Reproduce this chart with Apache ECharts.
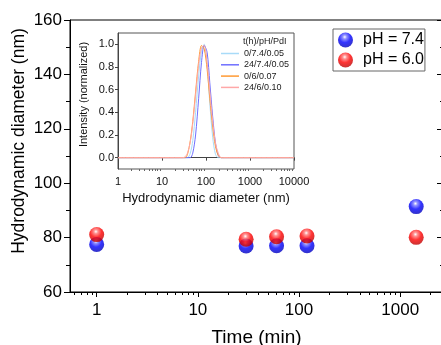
<!DOCTYPE html>
<html>
<head>
<meta charset="utf-8">
<script src="https://cdn.jsdelivr.net/npm/echarts@6/dist/echarts.min.js"></script>
<style>
  html, body { margin: 0; padding: 0; background: #fff; }
  #chart { width: 441px; height: 345px; }
</style>
</head>
<body>
<div id="chart"></div>
<script>
// main plot: hydrodynamic diameter vs time
const times = [1, 30, 60, 120, 1440];
const dPH74 = [77.5, 76.9, 77.0, 77.0, 91.4];
const dPH60 = [81.1, 79.4, 80.3, 80.6, 80.1];

// inset: DLS size distributions
const sizes = [1, 30, 34, 38, 44, 50, 58, 68, 79, 91, 106, 122, 142, 164, 190, 220, 255, 10000];
const int0_74 = [0, 0, 0, 0, 0.04, 0.15, 0.40, 0.72, 0.94, 1.00, 0.82, 0.48, 0.18, 0.03, 0, 0, 0, 0];
const int24_74 = [0, 0, 0, 0, 0, 0.04, 0.20, 0.52, 0.84, 0.99, 0.93, 0.66, 0.36, 0.13, 0.02, 0, 0, 0];
const int0_6 = [0, 0, 0, 0.03, 0.15, 0.32, 0.58, 0.85, 0.99, 0.96, 0.78, 0.52, 0.27, 0.10, 0.02, 0, 0, 0];
const int24_6 = [0, 0, 0.01, 0.04, 0.14, 0.30, 0.55, 0.82, 0.97, 0.99, 0.84, 0.58, 0.32, 0.13, 0.04, 0, 0, 0];

const mainMajor = [1, 10, 100, 1000];
const mainMinor = [0.6, 0.7, 0.8, 0.9, 2, 3, 4, 5, 6, 7, 8, 9, 20, 30, 40, 50, 60, 70, 80, 90,
  200, 300, 400, 500, 600, 700, 800, 900, 2000];
const insetMajor = [1, 10, 100, 1000, 10000];
const insetMinor = [2, 3, 4, 5, 6, 7, 8, 9, 20, 30, 40, 50, 60, 70, 80, 90,
  200, 300, 400, 500, 600, 700, 800, 900, 2000, 3000, 4000, 5000, 6000, 7000, 8000, 9000];
const insetYTicks = [0, 0.2, 0.4, 0.6, 0.8, 1.0];

const font = "'Liberation Sans', Arial, sans-serif";

const ball = (light, mid, dark) => new echarts.graphic.RadialGradient(0.45, 0.3, 0.75, [
  { offset: 0, color: '#ffffff' },
  { offset: 0.18, color: light },
  { offset: 0.5, color: mid },
  { offset: 1, color: dark }
]);

const pairs = (xs, ys) => xs.map((x, i) => [x, ys[i]]);
const plain = (v) => String(Math.round(v));

const chart = echarts.init(document.getElementById('chart'));

const option = {
  animation: false,
  textStyle: { fontFamily: font },
  title: {
    text: 't(h)/pH/PdI',
    left: 243, top: 37, padding: 0,
    textStyle: { fontSize: 9, fontWeight: 'normal', color: '#222', fontFamily: font }
  },
  legend: [
    {
      data: ['pH = 7.4', 'pH = 6.0'],
      orient: 'vertical',
      left: 333, top: 29,
      padding: [3, 1, 3, 5],
      itemWidth: 25, itemHeight: 15, itemGap: 4,
      borderColor: '#666', borderWidth: 1,
      textStyle: { fontSize: 16, lineHeight: 16, color: '#000', fontFamily: font }
    },
    {
      data: ['0/7.4/0.05', '24/7.4/0.05', '0/6/0.07', '24/6/0.10'],
      orient: 'vertical',
      left: 221, top: 48,
      padding: 0,
      icon: 'rect',
      itemWidth: 18, itemHeight: 1.5, itemGap: 0.3,
      textStyle: { fontSize: 9, lineHeight: 11, color: '#222', fontFamily: font }
    }
  ],
  grid: [
    { left: 70, top: 20, right: -2, bottom: 53, outerBoundsMode: 'none', show: true, borderColor: '#000', borderWidth: 1 },
    { left: 118, top: 33, width: 176, height: 136, outerBoundsMode: 'none', show: true, borderColor: '#555', borderWidth: 1, backgroundColor: '#fff' }
  ],
  xAxis: [
    {
      type: 'log', gridIndex: 0, position: 'bottom', min: 0.545, max: 2650,
      axisLine: { lineStyle: { color: '#000', width: 1 } },
      axisTick: { customValues: mainMajor, length: 5, lineStyle: { color: '#000' } },
      axisLabel: { customValues: mainMajor, formatter: plain, fontSize: 17, margin: 10, color: '#000', fontFamily: font },
      splitLine: { show: false },
      name: 'Time (min)', nameLocation: 'middle', nameGap: 36, nameMoveOverlap: false,
      nameTextStyle: { fontSize: 19, color: '#000', fontFamily: font }
    },
    {
      type: 'log', gridIndex: 0, position: 'bottom', min: 0.545, max: 2650,
      axisLine: { show: false },
      axisTick: { customValues: mainMinor, length: 3, lineStyle: { color: '#000' } },
      axisLabel: { show: false },
      splitLine: { show: false }
    },
    {
      type: 'log', gridIndex: 1, position: 'bottom', min: 1, max: 10000,
      axisLine: { lineStyle: { color: '#444', width: 1 } },
      axisTick: { customValues: insetMajor, length: 3, lineStyle: { color: '#444' } },
      axisLabel: { customValues: insetMajor, formatter: plain, fontSize: 11, margin: 7, color: '#111', fontFamily: font },
      splitLine: { show: false },
      name: 'Hydrodynamic diameter (nm)', nameLocation: 'middle', nameGap: 23, nameMoveOverlap: false,
      nameTextStyle: { fontSize: 13, color: '#111', fontFamily: font }
    },
    {
      type: 'log', gridIndex: 1, position: 'bottom', min: 1, max: 10000,
      axisLine: { show: false },
      axisTick: { customValues: insetMinor, length: 2, lineStyle: { color: '#666' } },
      axisLabel: { show: false },
      splitLine: { show: false }
    }
  ],
  yAxis: [
    {
      type: 'value', gridIndex: 0, position: 'left', min: 60, max: 160, interval: 20,
      axisLine: { show: true, lineStyle: { color: '#000', width: 1 } },
      axisTick: { show: true, length: 6, lineStyle: { color: '#000' } },
      minorTick: { show: true, splitNumber: 2, length: 4, lineStyle: { color: '#000' } },
      axisLabel: { fontSize: 17, margin: 8, color: '#000', fontFamily: font },
      splitLine: { show: false },
      name: 'Hydrodynamic diameter (nm)', nameLocation: 'middle', nameGap: 42, nameMoveOverlap: false,
      nameTextStyle: { fontSize: 17.5, color: '#000', fontFamily: font, padding: [0, 0, 0, 30] }
    },
    {
      type: 'value', gridIndex: 0, position: 'right', min: 60, max: 160, interval: 20,
      axisLine: { show: true, lineStyle: { color: '#000', width: 1 } },
      axisTick: { show: true, inside: true, length: 6, lineStyle: { color: '#000' } },
      minorTick: { show: true, splitNumber: 2, length: 3, lineStyle: { color: '#000' } },
      axisLabel: { show: false },
      splitLine: { show: false }
    },
    {
      type: 'value', gridIndex: 1, min: -0.1, max: 1.1,
      axisLine: { show: true, lineStyle: { color: '#444', width: 1 } },
      axisTick: { show: true, customValues: insetYTicks, length: 3, lineStyle: { color: '#444' } },
      axisLabel: {
        customValues: insetYTicks, fontSize: 11, margin: 4, color: '#111', fontFamily: font,
        formatter: (v) => v.toFixed(1)
      },
      splitLine: { show: false },
      name: 'Intensity (normalized)', nameLocation: 'middle', nameGap: 29, nameMoveOverlap: false,
      nameTextStyle: { fontSize: 11, color: '#111', fontFamily: font, padding: [0, 0, 0, 13] }
    }
  ],
  series: [
    {
      name: 'pH = 7.4', type: 'scatter', xAxisIndex: 0, yAxisIndex: 0,
      symbolSize: 15,
      itemStyle: { color: ball('#7777ff', '#0000ff', '#0000b0') },
      data: pairs(times, dPH74)
    },
    {
      name: 'pH = 6.0', type: 'scatter', xAxisIndex: 0, yAxisIndex: 0,
      symbolSize: 15,
      itemStyle: { color: ball('#ff7777', '#ff0000', '#b00000') },
      data: pairs(times, dPH60)
    },
    {
      name: '0/7.4/0.05', type: 'line', xAxisIndex: 2, yAxisIndex: 2,
      smooth: 0.3, showSymbol: false,
      itemStyle: { color: '#a8dbf8' }, lineStyle: { color: '#a8dbf8', width: 1 },
      data: pairs(sizes, int0_74)
    },
    {
      name: '24/7.4/0.05', type: 'line', xAxisIndex: 2, yAxisIndex: 2,
      smooth: 0.3, showSymbol: false,
      itemStyle: { color: '#6f6fff' }, lineStyle: { color: '#6f6fff', width: 1 },
      data: pairs(sizes, int24_74)
    },
    {
      name: '0/6/0.07', type: 'line', xAxisIndex: 2, yAxisIndex: 2,
      smooth: 0.3, showSymbol: false,
      itemStyle: { color: '#ff9a33' }, lineStyle: { color: '#ff9a33', width: 1 },
      data: pairs(sizes, int0_6)
    },
    {
      name: '24/6/0.10', type: 'line', xAxisIndex: 2, yAxisIndex: 2,
      smooth: 0.3, showSymbol: false,
      itemStyle: { color: '#ffa8a8' }, lineStyle: { color: '#ffa8a8', width: 1 },
      data: pairs(sizes, int24_6)
    }
  ]
};

chart.setOption(option);
</script>
</body>
</html>
